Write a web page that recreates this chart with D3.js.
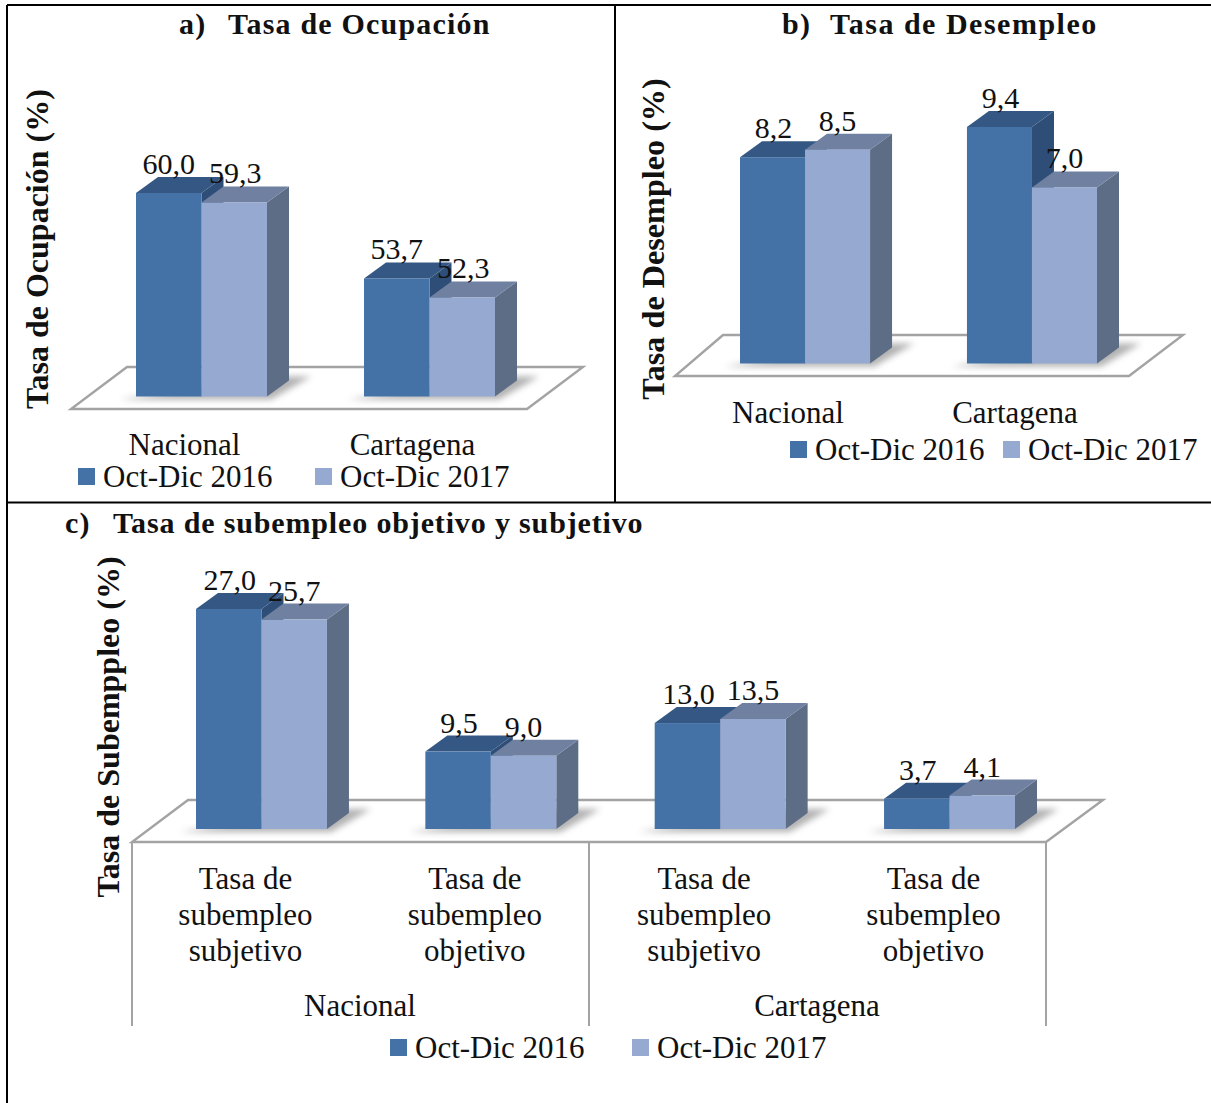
<!DOCTYPE html>
<html>
<head>
<meta charset="utf-8">
<script src="https://cdn.jsdelivr.net/npm/d3@7"></script>
<style>
html,body{margin:0;padding:0;background:#fff;}
svg{display:block;}
text{font-family:"Liberation Serif",serif;fill:#111;}
</style>
</head>
<body>
<div id="chart"></div>
<script>
var series = ['Oct-Dic 2016','Oct-Dic 2017'];
var catsA = ['Nacional','Cartagena'];
var valsA2016 = [60.0,53.7];
var valsA2017 = [59.3,52.3];
var catsB = ['Nacional','Cartagena'];
var valsB2016 = [8.2,9.4];
var valsB2017 = [8.5,7.0];
var catsC = ['Nacional subjetivo','Nacional objetivo','Cartagena subjetivo','Cartagena objetivo'];
var labelsC = [['Tasa de','subempleo','subjetivo'],['Tasa de','subempleo','objetivo'],['Tasa de','subempleo','subjetivo'],['Tasa de','subempleo','objetivo']];
var groupsC = ['Nacional','Cartagena'];
var valsC2016 = [27.0,9.5,13.0,3.7];
var valsC2017 = [25.7,9.0,13.5,4.1];

var cols = {
	front:['#4472a6','#95a9d1'],
	top:['#355783','#6f80a0'],
	side:['#2f4e77','#5e6d86']
};
var depthX = 22, depthY = 16;
var fmt = function(v){ return v.toFixed(1).replace('.',','); };

var svg = d3.select('#chart').append('svg').attr('width',1211).attr('height',1103);
svg.append('rect').attr('width',1211).attr('height',1103).attr('fill','#fff');
var defs = svg.append('defs');
defs.append('filter').attr('id','blur').attr('x','-20%').attr('y','-100%').attr('width','140%').attr('height','300%')
	.append('feGaussianBlur').attr('stdDeviation',3);

function drawPanel(p){
	var g = svg.append('g');
	// floor
	g.append('polygon')
		.attr('points',[[p.floor[0],p.floorFront],[p.floor[1],p.floorFront],[p.floor[1]+p.floorDx2,p.floorBack],[p.floor[0]+p.floorDx1,p.floorBack]].join(' '))
		.attr('fill','#fff').attr('stroke','#a3a3a3').attr('stroke-width',2.4);

	var x0 = d3.scaleBand().domain(p.cats).range(p.xRange).paddingInner(p.inner).paddingOuter(0);
	var x1 = d3.scaleBand().domain(series).range([0,x0.bandwidth()]);
	var y = d3.scaleLinear().domain(p.domain).range(p.yRange);

	p.cats.forEach(function(c,i){
		var gx = x0(c);
		// shadow on floor
		g.append('polygon')
			.attr('points',[[gx-16,y.range()[0]+3],[gx+x0.bandwidth()+4,y.range()[0]+3],[gx+x0.bandwidth()+depthX+22,y.range()[0]-20],[gx+x0.bandwidth(),y.range()[0]-20]].join(' '))
			.attr('fill','#666').attr('opacity',0.5).attr('filter','url(#blur)');
		[p.a,p.b].forEach(function(vals,s){
			var bx = gx+x1(series[s]), w = x1.bandwidth(), t = y(vals[i]), b = y(p.domain[0]);
			// side, top, front
			g.append('polygon')
				.attr('points',[[bx+w,t],[bx+w+depthX,t-depthY],[bx+w+depthX,b-depthY],[bx+w,b]].join(' '))
				.attr('fill',cols.side[s]);
			g.append('polygon')
				.attr('points',[[bx,t],[bx+depthX,t-depthY],[bx+w+depthX,t-depthY],[bx+w,t]].join(' '))
				.attr('fill',cols.top[s]);
			g.append('rect').attr('x',bx).attr('y',t).attr('width',w).attr('height',b-t).attr('fill',cols.front[s]);
		});
	});
	// value labels go over every bar
	p.cats.forEach(function(c,i){
		[p.a,p.b].forEach(function(vals,s){
			var bx = x0(c)+x1(series[s]), w = x1.bandwidth();
			g.append('text')
				.attr('x',bx+w/2+p.labelDx[s]).attr('y',y(vals[i])-depthY-3)
				.attr('text-anchor','middle').attr('font-size',30)
				.text(fmt(vals[i]));
		});
	});
	return x0;
}

function legend(lx,ly){
	series.forEach(function(s,i){
		var off = lx[i];
		svg.append('rect').attr('x',off).attr('y',ly-9).attr('width',17).attr('height',17).attr('fill',cols.front[i]);
		svg.append('text').attr('x',off+25).attr('y',ly+10).attr('font-size',31).text(s);
	});
}
function title(txt1,txt2,x1,x2,yy,spacing){
	svg.append('text').attr('x',x1).attr('y',yy).attr('font-size',30).attr('font-weight','bold').attr('letter-spacing',1.2).text(txt1);
	svg.append('text').attr('x',x2).attr('y',yy).attr('font-size',30).attr('font-weight','bold').attr('letter-spacing',spacing).text(txt2);
}
function yTitle(txt,cx,cy,size){
	svg.append('text').attr('transform','translate('+cx+','+cy+') rotate(-90)')
		.attr('text-anchor','middle').attr('font-size',size).attr('font-weight','bold').text(txt);
}

// a
var xA = drawPanel({cats:catsA,a:valsA2016,b:valsA2017,xRange:[136,495],inner:0.4254,domain:[45,60],yRange:[396.5,193],
	floor:[71,527],floorFront:409,floorBack:367,floorDx1:56,floorDx2:56,labelDx:[0,1]});
catsA.forEach(function(c){
	svg.append('text').attr('x',xA(c)+xA.bandwidth()/2-17).attr('y',455).attr('text-anchor','middle').attr('font-size',31).text(c);
});
legend([78,315],477);
title('a)','Tasa de Ocupación',179,228,34,1.2);
yTitle('Tasa de Ocupación (%)',48,249,32);

// b
var xB = drawPanel({cats:catsB,a:valsB2016,b:valsB2017,xRange:[740,1097],inner:0.427,domain:[0,9.4],yRange:[363.5,127],
	floor:[675,1129],floorFront:376,floorBack:335,floorDx1:48,floorDx2:54,labelDx:[1,0]});
catsB.forEach(function(c){
	svg.append('text').attr('x',xB(c)+xB.bandwidth()/2-17).attr('y',423).attr('text-anchor','middle').attr('font-size',31).text(c);
});
legend([790,1003],450);
title('b)','Tasa de Desempleo',782,830,34,1.5);
yTitle('Tasa de Desempleo (%)',664,239,32.2);

// c
var xC = drawPanel({cats:catsC,a:valsC2016,b:valsC2017,xRange:[196,1015],inner:0.429,domain:[0,27],yRange:[829,609],
	floor:[132,1046],floorFront:842,floorBack:800,floorDx1:56,floorDx2:57,labelDx:[1,0]});
catsC.forEach(function(c,i){
	labelsC[i].forEach(function(l,j){
		svg.append('text').attr('x',xC(c)+xC.bandwidth()/2-16).attr('y',889+j*36).attr('text-anchor','middle').attr('font-size',31).text(l);
	});
});
groupsC.forEach(function(c,i){
	svg.append('text').attr('x',i?817:360).attr('y',1016).attr('text-anchor','middle').attr('font-size',31).text(c);
});
[132,589,1046].forEach(function(v){
	svg.append('line').attr('x1',v).attr('x2',v).attr('y1',842).attr('y2',1026).attr('stroke','#a3a3a3').attr('stroke-width',2);
});
legend([390,632],1048);
title('c)','Tasa de subempleo objetivo y subjetivo',65,113,533,0.85);
yTitle('Tasa de Subemppleo (%)',119,727,32);

// table borders
var borders = [[7,5,1211,5],[7,5,7,1103],[615,5,615,502.5],[7,502.5,1211,502.5]];
svg.selectAll('line.border').data(borders).enter().append('line').attr('class','border')
	.attr('x1',function(d){return d[0];}).attr('y1',function(d){return d[1];})
	.attr('x2',function(d){return d[2];}).attr('y2',function(d){return d[3];})
	.attr('stroke','#000').attr('stroke-width',2);
</script>
</body>
</html>
